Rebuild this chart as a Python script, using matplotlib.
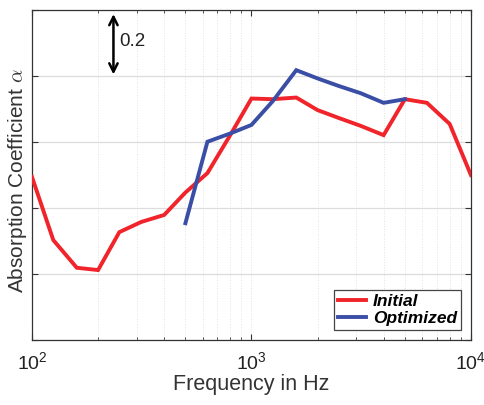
import numpy as np
import matplotlib
matplotlib.use('Agg')
import matplotlib.pyplot as plt
from matplotlib.ticker import LogLocator, NullFormatter, MultipleLocator, NullLocator

plt.rcParams['font.family'] = ['Liberation Sans', 'DejaVu Sans']
plt.rcParams['mathtext.fontset'] = 'cm'

# third-octave band centre frequencies (Hz)
freq_initial = [100, 125, 160, 200, 250, 315, 400, 500, 630, 800, 1000, 1250,
                1600, 2000, 2500, 3150, 4000, 5000, 6300, 8000, 10000]
alpha_initial = [0.494, 0.303, 0.219, 0.212, 0.327, 0.358, 0.379, 0.447, 0.506,
                 0.621, 0.732, 0.730, 0.735, 0.697, 0.673, 0.649, 0.621, 0.730,
                 0.719, 0.655, 0.500]

freq_optimized = [500, 630, 800, 1000, 1250, 1600, 2000, 2500, 3150, 4000, 5000]
alpha_optimized = [0.354, 0.601, 0.626, 0.652, 0.724, 0.818, 0.793, 0.770,
                   0.748, 0.719, 0.730]

fig = plt.figure(figsize=(4.85, 4.05), dpi=100)
ax = fig.add_axes([0.066, 0.1605, 0.905, 0.8145])

ax.plot(freq_initial, alpha_initial, color='#f0242a', lw=2.8, label='Initial',
        solid_joinstyle='miter', zorder=3)
ax.plot(freq_optimized, alpha_optimized, color='#3a4ea6', lw=2.8, label='Optimized',
        solid_joinstyle='miter', zorder=4)

ax.set_xscale('log')
ax.set_xlim(100, 10000)
ax.set_ylim(0, 1.0)

ax.xaxis.set_major_locator(LogLocator(base=10, numticks=5))
ax.xaxis.set_minor_locator(LogLocator(base=10, subs=np.arange(2, 10), numticks=10))
ax.xaxis.set_minor_formatter(NullFormatter())
ax.yaxis.set_major_locator(MultipleLocator(0.2))
ax.yaxis.set_minor_locator(NullLocator())
ax.set_yticklabels([])

ax.tick_params(which='both', direction='in', top=True, right=True,
               colors='#333333', labelcolor='#222222')
ax.tick_params(which='major', length=4, width=0.8, labelsize=14, pad=8)
ax.tick_params(which='minor', length=2.5, width=0.6)

ax.grid(True, which='major', axis='y', color='#dddddd', lw=0.9)
ax.grid(True, which='both', axis='x', color='#e2e2e2', lw=0.7, ls=':')
ax.set_axisbelow(True)

for s in ax.spines.values():
    s.set_color('#333333')
    s.set_linewidth(0.9)

ax.set_xlabel('Frequency in Hz', fontsize=15.5, color='#333333', labelpad=1)
fig.text(0.037, 0.553, r'Absorption Coefficient $\alpha$', fontsize=15,
         color='#333333', rotation=90, ha='center', va='center')

# scale bar for one grid step
ax.annotate('', xy=(235, 0.988), xytext=(235, 0.805),
            arrowprops=dict(arrowstyle='<->', color='black', lw=1.8,
                            mutation_scale=15, shrinkA=0, shrinkB=0))
ax.text(250, 0.905, '0.2', fontsize=13.5, va='center', ha='left', color='#222222')

leg = ax.legend(loc='lower right', handlelength=1.6,
                borderpad=0.25, labelspacing=0.1, handletextpad=0.4,
                fancybox=False, edgecolor='#444444', framealpha=1,
                borderaxespad=0.55, prop={'weight': 'bold', 'style': 'italic',
                                          'size': 12.5})
leg.get_frame().set_linewidth(0.9)

fig.savefig('out.png', dpi=100)
